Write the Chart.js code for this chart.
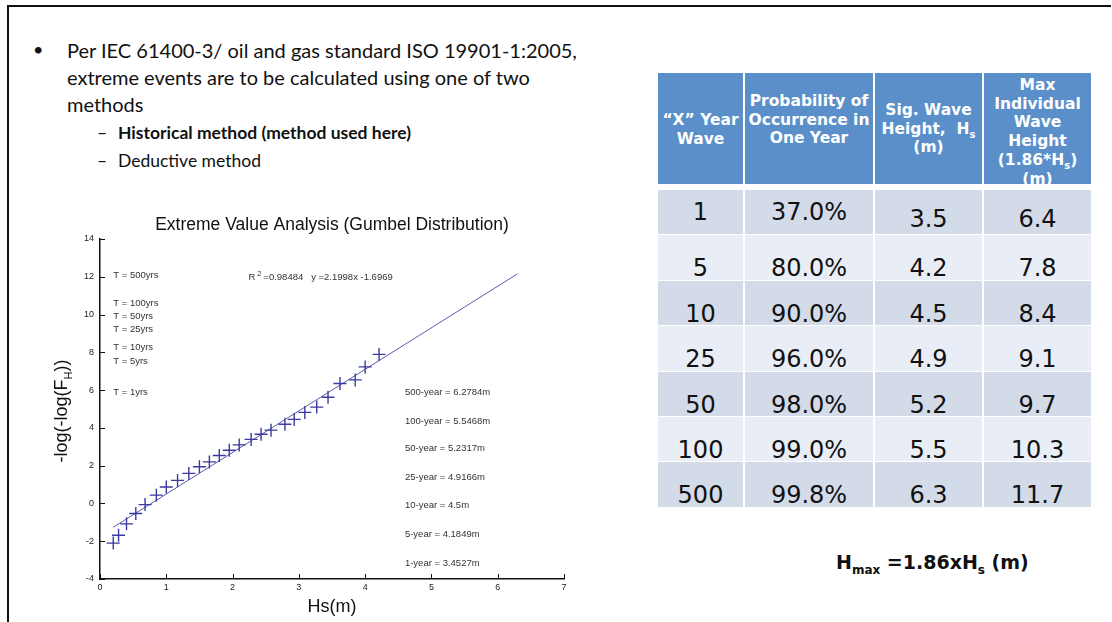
<!DOCTYPE html>
<html>
<head>
<meta charset="utf-8">
<script src="https://cdn.jsdelivr.net/npm/chart.js@4.4.1/dist/chart.umd.min.js"></script>
<style>
  body { margin: 0; width: 1112px; height: 622px; background: #fff; position: relative; overflow: hidden; }
  .frame-top { position: absolute; left: 7px; top: 5px; width: 1104px; height: 2px; background: #111; }
  .frame-left { position: absolute; left: 7px; top: 5px; width: 2px; height: 620px; background: #111; }
  .txt { position: absolute; font-family: Lato, "Open Sans", sans-serif; color: #111; white-space: nowrap; line-height: 1; }
  .cell { position: absolute; overflow: hidden; font-family: "DejaVu Sans", Verdana, sans-serif; text-align: center; }
  .head { background: #5b8fca; color: #fff; font-weight: bold; font-size: 15.5px; line-height: 18.7px; white-space: nowrap; }
  .body { color: #111; font-size: 24px; line-height: 24px; }
  sub { line-height: 0; }
  #chartBox { position: absolute; left: 50px; top: 205px; width: 540px; height: 417px; }
</style>
</head>
<body>
<div class="frame-top"></div>
<div class="frame-left"></div>

<div class="txt" style="left:33px;top:40px;font-size:18px;">&bull;</div>
<div class="txt" style="left:67px;top:40px;font-size:20px;">Per IEC 61400-3/ oil and gas standard ISO 19901-1:2005,</div>
<div class="txt" style="left:67px;top:67px;font-size:20px;">extreme events are to be calculated using one of two</div>
<div class="txt" style="left:67px;top:94px;font-size:20px;">methods</div>
<div class="txt" style="left:97px;top:124px;font-size:17.5px;">&ndash;</div>
<div class="txt" style="left:118px;top:124px;font-size:17.5px;font-weight:bold;">Historical method (method used here)</div>
<div class="txt" style="left:97px;top:152px;font-size:17.5px;">&ndash;</div>
<div class="txt" style="left:118px;top:152px;font-size:17.5px;">Deductive method</div>

<div id="table"></div>

<div class="txt" style="left:836px;top:553px;font-family:'DejaVu Sans',Verdana,sans-serif;font-weight:bold;font-size:19px;">H<sub style="font-size:12px;">max</sub> =1.86xH<sub style="font-size:12px;">s</sub> (m)</div>

<div id="chartBox"><canvas id="gumbelChart"></canvas></div>

<script>
// table contents
var returnPeriods = ['1', '5', '10', '25', '50', '100', '500'];
var probabilities = ['37.0%', '80.0%', '90.0%', '96.0%', '98.0%', '99.0%', '99.8%'];
var sigWaveHeights = ['3.5', '4.2', '4.5', '4.9', '5.2', '5.5', '6.3'];
var maxWaveHeights = ['6.4', '7.8', '8.4', '9.1', '9.7', '10.3', '11.7'];
var tableHeaders = [
    '\u201CX\u201D Year<br>Wave',
    'Probability of<br>Occurrence in<br>One Year',
    'Sig. Wave<br>Height,&nbsp; H<sub style="font-size:10px">s</sub><br>(m)',
    'Max<br>Individual<br>Wave<br>Height<br>(1.86*H<sub style="font-size:10px">s</sub>)<br>(m)'
];

// chart data
var hsValues = [0.20, 0.28, 0.40, 0.54, 0.68, 0.85, 1.00, 1.17, 1.34, 1.50, 1.65, 1.80, 1.95, 2.10, 2.28, 2.43, 2.58, 2.79, 2.93, 3.09, 3.27, 3.44, 3.62, 3.85, 4.00, 4.21];
var reducedVariate = [-2.10, -1.68, -1.08, -0.53, -0.06, 0.44, 0.87, 1.22, 1.59, 1.94, 2.20, 2.54, 2.82, 3.10, 3.39, 3.66, 3.88, 4.19, 4.45, 4.82, 5.10, 5.62, 6.35, 6.54, 7.23, 7.89];
var fitX = [0.2, 6.3];
var fitY = [-1.26, 12.16];
var xTicks = [0, 1, 2, 3, 4, 5, 6, 7];
var yTicks = [-4, -2, 0, 2, 4, 6, 8, 10, 12, 14];

var periodLabels = ['T = 500yrs', 'T = 100yrs', 'T = 50yrs', 'T = 25yrs', 'T = 10yrs', 'T = 5yrs', 'T = 1yrs'];
var periodLabelY = [12.1, 10.6, 9.9, 9.2, 8.25, 7.5, 5.87];
var resultLabels = ['500-year = 6.2784m', '100-year = 5.5468m', '50-year = 5.2317m', '25-year = 4.9166m', '10-year = 4.5m', '5-year = 4.1849m', '1-year = 3.4527m'];
var resultLabelY = [5.87, 4.34, 2.91, 1.38, -0.1, -1.64, -3.17];

// build the table
var colEdges = [657, 744, 874, 983, 1092];
var table = document.getElementById('table');
function addCell(html, cls, left, y, width, height, padTop) {
    var d = document.createElement('div');
    d.className = 'cell ' + cls;
    d.style.left = left + 'px';
    d.style.top = y + 'px';
    d.style.width = width + 'px';
    d.style.height = (height - padTop) + 'px';
    d.style.paddingTop = padTop + 'px';
    d.innerHTML = html;
    table.appendChild(d);
    return d;
}
var headPads = [38, 19, 28, 3];
for (var c = 0; c < 4; c++) {
    addCell(tableHeaders[c], 'head', colEdges[c] + 1, 73, colEdges[c + 1] - colEdges[c] - 2, 111, headPads[c]);
}
var columns = [returnPeriods, probabilities, sigWaveHeights, maxWaveHeights];
for (var r = 0; r < returnPeriods.length; r++) {
    var rowTop = Math.round(190 + r * 45.4);
    var rowBottom = Math.round(190 + (r + 1) * 45.4);
    var bg = (r % 2 === 0) ? '#d3dbe9' : '#e9edf5';
    for (var c = 0; c < 4; c++) {
        var pad = 21;
        if (r === 0) pad = (c < 2) ? 10 : 17;
        var cell = addCell(columns[c][r], 'body', colEdges[c] + 1, rowTop, colEdges[c + 1] - colEdges[c] - 2, rowBottom - rowTop - 1, pad);
        cell.style.background = bg;
    }
}

// text, axis titles and inward ticks drawn on top of the chart
var decorations = {
    id: 'decorations',
    afterDraw: function (chart) {
        var ctx = chart.ctx;
        var xs = chart.scales.x;
        var ys = chart.scales.y;
        var area = chart.chartArea;
        ctx.save();

        ctx.strokeStyle = '#111';
        ctx.lineWidth = 1;
        xTicks.forEach(function (v) {
            var px = Math.round(xs.getPixelForValue(v)) + 0.5;
            ctx.beginPath();
            ctx.moveTo(px, area.bottom);
            ctx.lineTo(px, area.bottom - 5);
            ctx.stroke();
        });
        yTicks.forEach(function (v) {
            var py = Math.round(ys.getPixelForValue(v)) + 0.5;
            ctx.beginPath();
            ctx.moveTo(area.left, py);
            ctx.lineTo(area.left + 5, py);
            ctx.stroke();
        });

        var cx = (area.left + area.right) / 2;
        ctx.fillStyle = '#111';
        ctx.textAlign = 'center';
        ctx.textBaseline = 'middle';
        ctx.font = '17.5px "Liberation Sans", Arial, sans-serif';
        ctx.fillText('Extreme Value Analysis (Gumbel Distribution)', cx, 20);
        ctx.font = '18px "Liberation Sans", Arial, sans-serif';
        ctx.fillText('Hs(m)', cx, 402);

        // y axis title with subscript
        ctx.save();
        ctx.translate(12, (area.top + area.bottom) / 2 + 2);
        ctx.rotate(-Math.PI / 2);
        ctx.textAlign = 'left';
        var p1 = '-log(-log(F', p3 = '))';
        ctx.font = '18px "Liberation Sans", Arial, sans-serif';
        var w1 = ctx.measureText(p1).width, w3 = ctx.measureText(p3).width;
        ctx.font = '11px "Liberation Sans", Arial, sans-serif';
        var w2 = ctx.measureText('H').width;
        var x0 = -(w1 + w2 + w3) / 2;
        ctx.font = '18px "Liberation Sans", Arial, sans-serif';
        ctx.fillText(p1, x0, 0);
        ctx.fillText(p3, x0 + w1 + w2, 0);
        ctx.font = '11px "Liberation Sans", Arial, sans-serif';
        ctx.fillText('H', x0 + w1, 7);
        ctx.restore();

        ctx.fillStyle = '#333';
        ctx.textAlign = 'left';
        ctx.font = '9.5px "Liberation Sans", Arial, sans-serif';
        periodLabels.forEach(function (t, i) {
            ctx.fillText(t, xs.getPixelForValue(0.2), ys.getPixelForValue(periodLabelY[i]));
        });
        resultLabels.forEach(function (t, i) {
            ctx.fillText(t, xs.getPixelForValue(4.6), ys.getPixelForValue(resultLabelY[i]));
        });

        // R^2 annotation
        var rx = xs.getPixelForValue(2.24), ry = ys.getPixelForValue(11.95);
        ctx.fillText('R', rx, ry);
        var wr = ctx.measureText('R').width;
        ctx.font = '7.5px "Liberation Sans", Arial, sans-serif';
        ctx.fillText('2', rx + wr + 2, ry - 4);
        ctx.font = '9.5px "Liberation Sans", Arial, sans-serif';
        ctx.fillText('=0.98484   y =2.1998x -1.6969', rx + wr + 8, ry);

        ctx.restore();
    }
};

new Chart(document.getElementById('gumbelChart'), {
    type: 'scatter',
    data: {
        datasets: [
            {
                label: 'Data',
                data: hsValues.map(function (x, i) { return { x: x, y: reducedVariate[i] }; }),
                pointStyle: 'cross',
                pointRadius: 6.5,
                pointBorderWidth: 1.4,
                borderColor: '#3a3aa0',
                backgroundColor: '#3a3aa0'
            },
            {
                label: 'Fit',
                type: 'line',
                data: fitX.map(function (x, i) { return { x: x, y: fitY[i] }; }),
                borderColor: '#5a5ab0',
                borderWidth: 1,
                pointRadius: 0,
                fill: false
            }
        ]
    },
    options: {
        responsive: true,
        maintainAspectRatio: false,
        animation: false,
        layout: { padding: { top: 34, right: 26, left: 0, bottom: 0 } },
        plugins: {
            legend: { display: false },
            tooltip: { enabled: false }
        },
        scales: {
            x: {
                type: 'linear',
                min: 0,
                max: 7,
                afterFit: function (s) { s.height = 43; },
                ticks: { stepSize: 1, padding: 3, color: '#222', font: { family: '"Liberation Sans", Arial', size: 9 } },
                grid: { display: false, drawTicks: false },
                border: { display: true, color: '#111', width: 1.5 }
            },
            y: {
                type: 'linear',
                min: -4,
                max: 14,
                afterFit: function (s) { s.width = 50; },
                ticks: { stepSize: 2, padding: 6, color: '#222', font: { family: '"Liberation Sans", Arial', size: 9 } },
                grid: { display: false, drawTicks: false },
                border: { display: true, color: '#111', width: 1.5 }
            }
        }
    },
    plugins: [decorations]
});
</script>
</body>
</html>
